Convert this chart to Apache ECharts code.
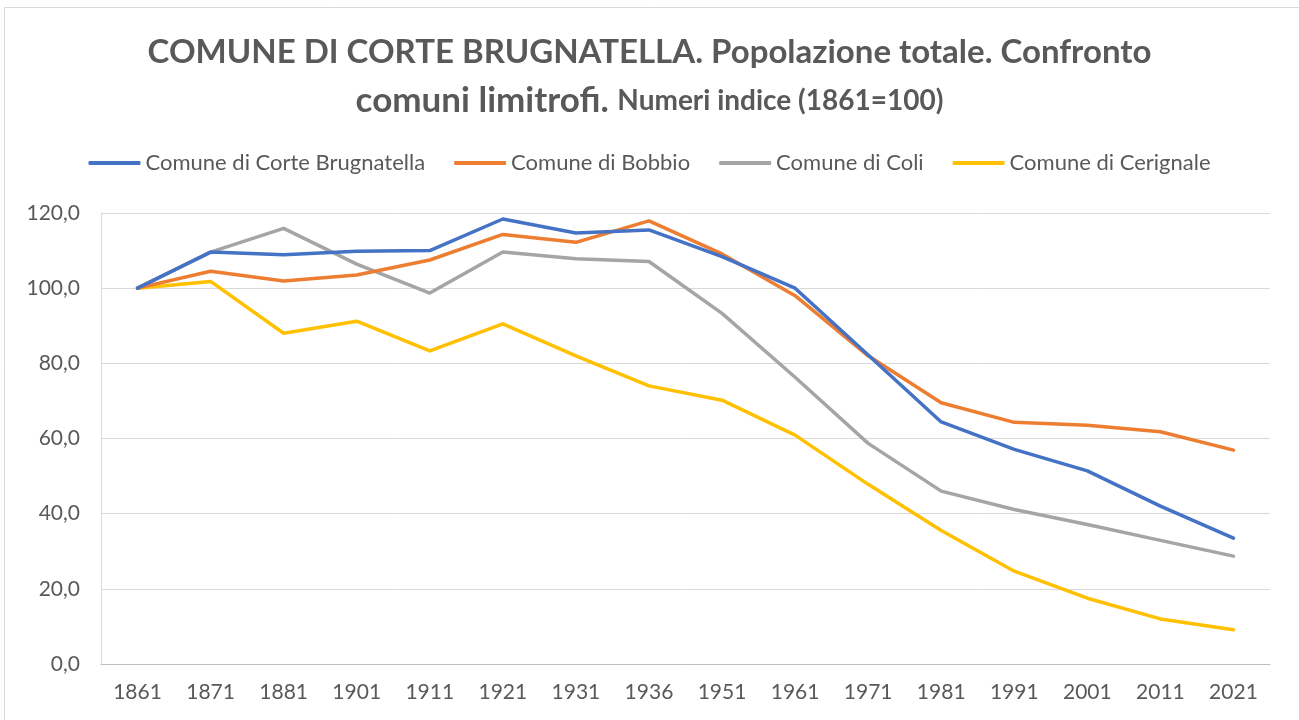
<!DOCTYPE html>
<html>
<head>
<meta charset="utf-8">
<script src="https://cdn.jsdelivr.net/npm/echarts@6/dist/echarts.min.js"></script>
<style>
  html, body { margin: 0; padding: 0; background: #fff; }
  #chart { width: 1299px; height: 720px; }
</style>
</head>
<body>
<div id="chart"></div>
<script>
// anni dei censimenti
const anni = ['1861', '1871', '1881', '1901', '1911', '1921', '1931', '1936',
  '1951', '1961', '1971', '1981', '1991', '2001', '2011', '2021'];

// numeri indice (1861=100)
const corteBrugnatella = [100, 109.6, 108.9, 109.8, 110.0, 118.4, 114.7, 115.5,
  108.4, 100.0, 82.2, 64.4, 57.1, 51.4, 42.0, 33.5];
const bobbio = [100, 104.5, 101.9, 103.5, 107.5, 114.3, 112.2, 117.9,
  109.1, 98.0, 82.0, 69.5, 64.3, 63.5, 61.8, 56.9];
const coli = [100, 109.6, 115.9, 106.4, 98.7, 109.6, 107.8, 107.1,
  93.3, 76.3, 58.7, 46.0, 41.1, 37.1, 32.9, 28.7];
const cerignale = [100, 101.8, 88.0, 91.2, 83.3, 90.5, 82.0, 74.0,
  70.2, 60.9, 47.8, 35.5, 24.7, 17.5, 12.0, 9.1];

const nomi = ['Comune di Corte Brugnatella', 'Comune di Bobbio', 'Comune di Coli', 'Comune di Cerignale'];
const colori = ['#4472C4', '#ED7D31', '#A5A5A5', '#FFC000'];
const valori = [corteBrugnatella, bobbio, coli, cerignale];

const FONT = 'Lato';
const grigio = '#595959';

const chart = echarts.init(document.getElementById('chart'));

const serie = nomi.map((n, i) => ({
  name: n,
  type: 'line',
  data: valori[i],
  symbol: 'none',
  lineStyle: { width: 3.5, color: colori[i], cap: 'round', join: 'round' },
  itemStyle: { color: colori[i] },
  z: 10 - i
}));

chart.setOption({
  animation: false,
  backgroundColor: '#fff',
  textStyle: { fontFamily: FONT },
  graphic: [{
    type: 'rect',
    shape: { x: 4.5, y: 7.5, width: 1310, height: 730 },
    style: { fill: 'none', stroke: '#D9D9D9', lineWidth: 1 }
  }],
  title: [{
    left: 'center',
    top: 31,
    text: 'COMUNE DI CORTE BRUGNATELLA. Popolazione totale. Confronto',
    textStyle: { fontFamily: FONT, fontSize: 33, fontWeight: 'bold', color: grigio }
  }, {
    left: 'center',
    top: 78,
    text: '{a|comuni limitrofi. }{b|Numeri indice (1861=100)}',
    textStyle: {
      rich: {
        a: { fontFamily: FONT, fontSize: 35, fontWeight: 'bold', color: grigio },
        b: { fontFamily: FONT, fontSize: 28, fontWeight: 'bold', color: grigio }
      }
    }
  }],
  legend: {
    top: 147,
    left: 'center',
    icon: 'roundRect',
    itemWidth: 52,
    itemHeight: 4,
    itemGap: 29,
    textStyle: { fontFamily: FONT, fontSize: 22, color: grigio },
    data: nomi
  },
  grid: { left: 101, right: 29, top: 213, bottom: 56, containLabel: false },
  xAxis: {
    type: 'category',
    data: anni,
    boundaryGap: true,
    axisLine: { lineStyle: { color: '#BFBFBF', width: 1 } },
    axisTick: { show: false },
    axisLabel: { color: grigio, fontSize: 21, fontFamily: FONT, margin: 18 }
  },
  yAxis: {
    type: 'value',
    min: 0,
    max: 120,
    interval: 20,
    axisLine: { show: true, lineStyle: { color: '#D9D9D9' } },
    axisTick: { show: false },
    splitLine: { lineStyle: { color: '#D9D9D9', width: 1 } },
    axisLabel: {
      color: grigio, fontSize: 21, fontFamily: FONT, margin: 21,
      formatter: v => v.toFixed(1).replace('.', ',')
    }
  },
  series: serie
});
</script>
</body>
</html>
